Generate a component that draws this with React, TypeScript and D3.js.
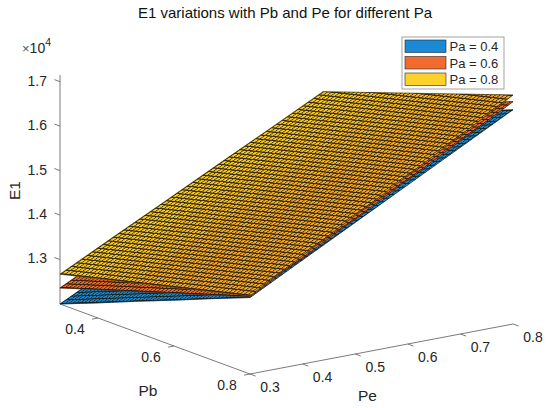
import React, { useEffect, useRef } from 'react';
import * as d3 from 'd3';

// grid the surfaces are sampled on
const peValues = [0.3, 0.4, 0.5, 0.6, 0.7, 0.8];
const pbValues = [0.3, 0.4, 0.5, 0.6, 0.7, 0.8];
const paLabels = ['Pa = 0.4', 'Pa = 0.6', 'Pa = 0.8'];

// E1 (x10^4); rows = Pe, columns = Pb
const e1Pa04 = [
  [1.200, 1.234, 1.269, 1.303, 1.338, 1.372],
  [1.260, 1.295, 1.330, 1.364, 1.399, 1.434],
  [1.320, 1.355, 1.390, 1.426, 1.461, 1.496],
  [1.380, 1.416, 1.451, 1.487, 1.522, 1.558],
  [1.440, 1.476, 1.512, 1.548, 1.584, 1.620],
  [1.500, 1.536, 1.573, 1.609, 1.646, 1.682],
];
const e1Pa06 = [
  [1.236, 1.264, 1.291, 1.319, 1.346, 1.374],
  [1.296, 1.324, 1.353, 1.382, 1.410, 1.439],
  [1.356, 1.385, 1.415, 1.445, 1.475, 1.504],
  [1.415, 1.446, 1.477, 1.508, 1.539, 1.570],
  [1.475, 1.507, 1.539, 1.571, 1.603, 1.635],
  [1.535, 1.568, 1.601, 1.634, 1.667, 1.700],
];
const e1Pa08 = [
  [1.267, 1.289, 1.311, 1.332, 1.354, 1.376],
  [1.327, 1.350, 1.374, 1.397, 1.420, 1.444],
  [1.386, 1.411, 1.436, 1.461, 1.487, 1.512],
  [1.446, 1.473, 1.499, 1.526, 1.553, 1.579],
  [1.505, 1.534, 1.562, 1.590, 1.619, 1.647],
  [1.565, 1.595, 1.625, 1.655, 1.685, 1.715],
];

const zTicks = [1.3, 1.4, 1.5, 1.6, 1.7];
const pbTicks = [0.4, 0.6, 0.8];
const peTicks = [0.3, 0.4, 0.5, 0.6, 0.7, 0.8];

const colors = ['#1a8ad6', '#f26b2e', '#fdd12c'];
const font = '"Liberation Sans", Arial, Helvetica, sans-serif';
const textColor = '#262626';

export default function App() {
  const svgRef = useRef<SVGSVGElement>(null);

  useEffect(() => {
    if (!svgRef.current) return;
    const svg = d3.select(svgRef.current);
    svg.selectAll('*').remove();

    const surfaces = [e1Pa04, e1Pa06, e1Pa08];
    const meshCells = 50;

    // oblique 3D view: base corner, Pb axis, Pe axis and height of z axis in pixels
    const origin = [60, 304];
    const pbVec = [190, 70];
    const peVec = [263, -50];
    const zLen = 229;

    const tPb = d3.scaleLinear().domain(d3.extent(pbValues) as [number, number]).range([0, 1]);
    const tPe = d3.scaleLinear().domain(d3.extent(peValues) as [number, number]).range([0, 1]);
    const zExt = d3.extent(surfaces.flat(2)) as [number, number];
    const zScale = d3.scaleLinear().domain(zExt).range([0, zLen]);

    const project = (pe: number, pb: number, z: number): [number, number] => [
      origin[0] + pbVec[0] * tPb(pb) + peVec[0] * tPe(pe),
      origin[1] + pbVec[1] * tPb(pb) + peVec[1] * tPe(pe) - zScale(z),
    ];
    const norm = (v: number[]) => {
      const l = Math.hypot(v[0], v[1]);
      return [v[0] / l, v[1] / l];
    };
    const pbUnit = norm(pbVec);
    const peUnit = norm(peVec);

    const pe0 = peValues[0], peN = peValues[peValues.length - 1];
    const pb0 = pbValues[0], pbN = pbValues[pbValues.length - 1];
    const nI = peValues.length - 1, nJ = pbValues.length - 1;

    const defs = svg.append('defs');
    surfaces.forEach((s, k) => {
      const p00 = project(pe0, pb0, s[0][0]);
      const p01 = project(pe0, pbN, s[0][nJ]);
      const p10 = project(peN, pb0, s[nI][0]);
      const eV = [(p01[0] - p00[0]) / meshCells, (p01[1] - p00[1]) / meshCells];
      const eU = [(p10[0] - p00[0]) / meshCells, (p10[1] - p00[1]) / meshCells];
      const pat = defs.append('pattern')
        .attr('id', `mesh${k}`)
        .attr('patternUnits', 'userSpaceOnUse')
        .attr('width', 1)
        .attr('height', 1)
        .attr('patternTransform', `matrix(${eV[0]} ${eV[1]} ${eU[0]} ${eU[1]} ${p00[0]} ${p00[1]})`);
      pat.append('rect').attr('x', 0).attr('y', 0).attr('width', 1).attr('height', 0.3).attr('fill', '#1a1400');
      pat.append('rect').attr('x', 0).attr('y', 0).attr('width', 0.3).attr('height', 1).attr('fill', '#1a1400');
    });

    svg.append('rect').attr('width', 550).attr('height', 408).attr('fill', '#fff');

    // Axes
    const axisG = svg.append('g').attr('stroke', '#595959').attr('stroke-width', 0.8).attr('fill', 'none');
    const line = d3.line();
    axisG.append('path').attr('d', line([project(pe0, pb0, zExt[0]), project(pe0, pb0, zExt[1])]));
    axisG.append('path').attr('d', line([project(pe0, pb0, zExt[0]), project(pe0, pbN, zExt[0])]));
    axisG.append('path').attr('d', line([project(pe0, pbN, zExt[0]), project(peN, pbN, zExt[0])]));

    const tickLen = 6;
    const labels = svg.append('g').attr('font-family', font).attr('font-size', 14).attr('fill', textColor);

    zTicks.forEach(t => {
      const p = project(pe0, pb0, t);
      axisG.append('path').attr('d', line([p, [p[0] - pbUnit[0] * tickLen, p[1] - pbUnit[1] * tickLen]]));
      labels.append('text').attr('x', p[0] - 13).attr('y', p[1] - 1).attr('dy', '0.35em')
        .attr('text-anchor', 'end').text(d3.format('.1f')(t));
    });
    pbTicks.forEach(t => {
      const p = project(pe0, t, zExt[0]);
      axisG.append('path').attr('d', line([p, [p[0] - peUnit[0] * tickLen, p[1] - peUnit[1] * tickLen]]));
      labels.append('text').attr('x', p[0] - 23).attr('y', p[1] + 11).attr('dy', '0.35em')
        .attr('text-anchor', 'middle').text(d3.format('.1f')(t));
    });
    peTicks.forEach(t => {
      const p = project(t, pbN, zExt[0]);
      axisG.append('path').attr('d', line([p, [p[0] + pbUnit[0] * tickLen, p[1] + pbUnit[1] * tickLen]]));
      labels.append('text').attr('x', p[0] + 20).attr('y', p[1] + 13).attr('dy', '0.35em')
        .attr('text-anchor', 'middle').text(d3.format('.1f')(t));
    });

    // exponent
    const expo = labels.append('text').attr('x', 22).attr('y', 53);
    expo.append('tspan').attr('font-size', 13).attr('fill', '#555').text('×');
    expo.append('tspan').attr('font-size', 14).text('10');
    expo.append('tspan').attr('font-size', 10.5).attr('dy', -7).text('4');

    // axis titles
    const pbMid = project(pe0, (pb0 + pbN) / 2, zExt[0]);
    const peMid = project((pe0 + peN) / 2, pbN, zExt[0]);
    const zMid = project(pe0, pb0, (zExt[0] + zExt[1]) / 2);
    const titles = svg.append('g').attr('font-family', font).attr('font-size', 15.5).attr('fill', textColor)
      .attr('text-anchor', 'middle');
    titles.append('text').attr('x', pbMid[0] - 7).attr('y', pbMid[1] + 52).attr('dy', '0.35em').text('Pb');
    titles.append('text').attr('x', peMid[0] - 14).attr('y', peMid[1] + 47).attr('dy', '0.35em').text('Pe');
    titles.append('text').attr('transform', `translate(${zMid[0] - 45},${zMid[1] + 1}) rotate(-90)`)
      .attr('dy', '0.35em').text('E1');

    // Surfaces, lowest first
    const mixYellow = d3.interpolateRgb(colors[2], colors[1]);
    surfaces.forEach((s, k) => {
      const g = svg.append('g');
      for (let i = 0; i < nI; i++) {
        for (let j = 0; j < nJ; j++) {
          const quad = [
            project(peValues[i], pbValues[j], s[i][j]),
            project(peValues[i], pbValues[j + 1], s[i][j + 1]),
            project(peValues[i + 1], pbValues[j + 1], s[i + 1][j + 1]),
            project(peValues[i + 1], pbValues[j], s[i + 1][j]),
          ];
          let fill = colors[k];
          if (k === 2) {
            // nearly coincident with the Pa = 0.6 sheet: the colours bleed together
            const below = surfaces[1];
            const diff = (s[i][j] - below[i][j] + s[i][j + 1] - below[i][j + 1]
              + s[i + 1][j] - below[i + 1][j] + s[i + 1][j + 1] - below[i + 1][j + 1]) / 4;
            const t = Math.max(0, Math.min(1, (0.03 - diff) / 0.015)) * 0.36;
            fill = mixYellow(t);
          }
          g.append('path')
            .attr('d', line(quad) + 'Z')
            .attr('fill', fill)
            .attr('stroke', fill)
            .attr('stroke-width', 0.6);
        }
      }
      const outline: [number, number][] = [];
      for (let j = 0; j <= nJ; j++) outline.push(project(pe0, pbValues[j], s[0][j]));
      for (let i = 1; i <= nI; i++) outline.push(project(peValues[i], pbN, s[i][nJ]));
      for (let j = nJ - 1; j >= 0; j--) outline.push(project(peN, pbValues[j], s[nI][j]));
      for (let i = nI - 1; i > 0; i--) outline.push(project(peValues[i], pb0, s[i][0]));
      g.append('path').attr('d', line(outline) + 'Z').attr('fill', `url(#mesh${k})`).attr('fill-opacity', 0.85);
      g.append('path').attr('d', line(outline) + 'Z').attr('fill', 'none')
        .attr('stroke', '#111').attr('stroke-width', 0.6);
    });

    // Title
    svg.append('text').attr('x', 285).attr('y', 18).attr('text-anchor', 'middle')
      .attr('font-family', font).attr('font-size', 15).attr('fill', '#111')
      .text('E1 variations with Pb and Pe for different Pa');

    // Legend
    const lg = svg.append('g').attr('transform', 'translate(402,37)');
    lg.append('rect').attr('width', 102).attr('height', 52).attr('fill', '#fff')
      .attr('stroke', '#8c8c8c').attr('stroke-width', 0.8);
    paLabels.forEach((lab, k) => {
      const y = 3 + k * 16.5;
      lg.append('rect').attr('x', 3).attr('y', y).attr('width', 41).attr('height', 12.5)
        .attr('fill', colors[k]).attr('stroke', '#262626').attr('stroke-width', 0.6);
      lg.append('text').attr('x', 47.5).attr('y', y + 6.5).attr('dy', '0.35em')
        .attr('font-family', font).attr('font-size', 13).attr('fill', textColor).text(lab);
    });
  }, []);

  return (
    <svg
      ref={svgRef}
      width={550}
      height={408}
      style={{ position: 'absolute', left: 0, top: 0, background: '#fff' }}
    />
  );
}
